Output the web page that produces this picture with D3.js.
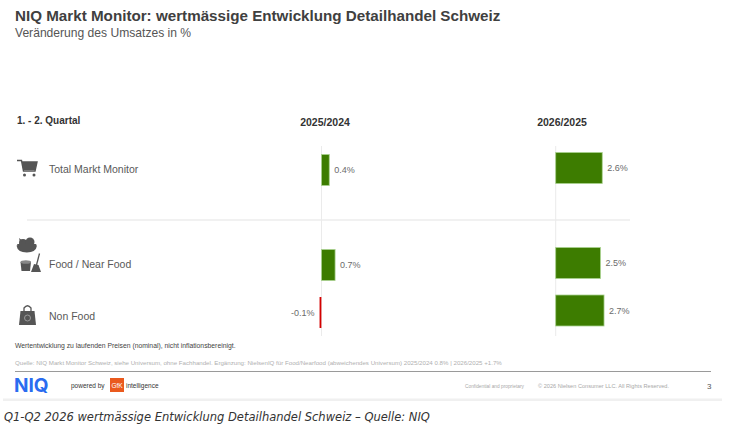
<!DOCTYPE html>
<html>
<head>
<meta charset="utf-8">
<script src="https://cdn.jsdelivr.net/npm/d3@7"></script>
<style>
  body { margin: 0; background: #fff; }
  svg { display: block; font-family: "Liberation Sans", Arial, sans-serif; }
</style>
</head>
<body>
<script>
const width = 730;
const height = 432;

// rows of the chart ("" is the empty gap under the total row)
const rows = ["Total Markt Monitor", "", "Food / Near Food", "Non Food"];
const categories = ["Total Markt Monitor", "Food / Near Food", "Non Food"];
const periods = ["2025/2024", "2026/2025"];
const values2025 = [0.4, 0.7, -0.1];
const values2026 = [2.6, 2.5, 2.7];
const labels2025 = ["0.4%", "0.7%", "-0.1%"];
const labels2026 = ["2.6%", "2.5%", "2.7%"];

const svg = d3.select("body").append("svg")
  .attr("width", width)
  .attr("height", height);

svg.append("rect").attr("width", width).attr("height", height).attr("fill", "#fff");

// title
svg.append("text")
  .attr("x", 15).attr("y", 21)
  .attr("font-size", 15.2).attr("font-weight", "bold").attr("fill", "#404040")
  .text("NIQ Markt Monitor: wertmässige Entwicklung Detailhandel Schweiz");
svg.append("text")
  .attr("x", 15).attr("y", 37)
  .attr("font-size", 12.1).attr("fill", "#555")
  .text("Veränderung des Umsatzes in %");

// header row
svg.append("text")
  .attr("x", 17).attr("y", 124)
  .attr("font-size", 10).attr("font-weight", "bold").attr("fill", "#333")
  .text("1. - 2. Quartal");

const y = d3.scalePoint().domain(rows).range([169, 311.5]);

// each panel has its own scale
const panels = [
  { period: periods[0], values: values2025, labels: labels2025,
    x: d3.scaleLinear().domain([0, 1]).range([321.5, 340.9]), dy: 1, headX: 325 },
  { period: periods[1], values: values2026, labels: labels2026,
    x: d3.scaleLinear().domain([0, 1]).range([555.7, 573.6]), dy: -1, headX: 562 }
];

// separator
svg.append("line")
  .attr("x1", 27).attr("x2", 630).attr("y1", 220).attr("y2", 220)
  .attr("stroke", "#e3e3e3").attr("stroke-width", 1);

const barH = 31;

panels.forEach(p => {
  const g = svg.append("g");
  g.append("text")
    .attr("x", p.headX).attr("y", 126)
    .attr("text-anchor", "middle")
    .attr("font-size", 10.5).attr("font-weight", "bold").attr("fill", "#333")
    .text(p.period);

  g.append("line")
    .attr("x1", p.x(0)).attr("x2", p.x(0))
    .attr("y1", 146).attr("y2", 336)
    .attr("stroke", "#ebebeb").attr("stroke-width", 1);

  const d = categories.map((c, i) => ({ c, v: p.values[i], l: p.labels[i] }));

  g.selectAll("rect.bar").data(d).join("rect")
    .attr("class", "bar")
    .attr("x", r => p.x(Math.min(0, r.v)))
    .attr("y", r => y(r.c) + p.dy - barH / 2)
    .attr("width", r => r.v < 0 ? 1.8 : Math.abs(p.x(r.v) - p.x(0)))
    .attr("height", barH)
    .attr("fill", r => r.v < 0 ? "#d40000" : "#3d7c00")
    .attr("stroke", r => r.v < 0 ? "none" : "#a9d18e")
    .attr("stroke-width", 0.8);

  g.selectAll("text.val").data(d).join("text")
    .attr("class", "val")
    .attr("x", r => r.v < 0 ? p.x(r.v) - 5 : p.x(r.v) + 5)
    .attr("y", r => y(r.c) + p.dy + 3)
    .attr("text-anchor", r => r.v < 0 ? "end" : "start")
    .attr("font-size", 9).attr("fill", "#6b6b6b")
    .text(r => r.l);
});

// category labels
svg.selectAll("text.cat").data(categories).join("text")
  .attr("class", "cat")
  .attr("x", 49)
  .attr("y", (c, i) => y(c) + [4, 4, 8][i])
  .attr("font-size", 10.5).attr("fill", "#595959")
  .text(c => c);

// icons
const ic = svg.append("g").attr("fill", "#555");
// cart
ic.append("path").attr("d", "M17,160.5 L21.5,160.5 L23.5,171 L35,171 L37,162 L21.8,162")
  .attr("fill", "none").attr("stroke", "#555").attr("stroke-width", 1.4);
ic.append("path").attr("d", "M21.8,162 L37,162 L35.2,170 L23.3,170 Z");
ic.append("circle").attr("cx", 24.5).attr("cy", 175).attr("r", 1.5);
ic.append("circle").attr("cx", 34).attr("cy", 175).attr("r", 1.5);
// food basket
ic.append("circle").attr("cx", 23).attr("cy", 243).attr("r", 4);
ic.append("circle").attr("cx", 30).attr("cy", 242).attr("r", 4.5);
ic.append("path").attr("d", "M19,238 L23,241 L20,242 Z");
ic.append("path").attr("d", "M16.5,245.5 L37,245.5 Q36,252.5 26.8,252.5 Q17.5,252.5 16.5,245.5 Z");
ic.append("rect").attr("x", 17).attr("y", 244).attr("width", 19.5).attr("height", 2).attr("rx", 1);
// bucket and broom
ic.append("path").attr("d", "M20.5,262 L31,262 L30,271 L21.5,271 Z");
ic.append("ellipse").attr("cx", 25.8).attr("cy", 262).attr("rx", 5.3).attr("ry", 1.8).attr("fill", "#888");
ic.append("line").attr("x1", 39.5).attr("y1", 253.5).attr("x2", 36.5).attr("y2", 265)
  .attr("stroke", "#555").attr("stroke-width", 1.3);
ic.append("path").attr("d", "M34,264 L38.5,265 L41,272 L31,272 Z");
// bag
ic.append("path").attr("d", "M24,311 L24,308 Q27.5,303.5 31,308 L31,311")
  .attr("fill", "none").attr("stroke", "#555").attr("stroke-width", 1.3);
ic.append("path").attr("d", "M20.5,311 L34.5,311 L36,325 L19,325 Z");
ic.append("circle").attr("cx", 27.5).attr("cy", 318).attr("r", 3).attr("fill", "none")
  .attr("stroke", "#aaa").attr("stroke-width", 0.8);

// notes
svg.append("text")
  .attr("x", 15).attr("y", 348)
  .attr("font-size", 6.8).attr("fill", "#444")
  .text("Wertentwicklung zu laufenden Preisen (nominal), nicht inflationsbereinigt.");
svg.append("text")
  .attr("x", 15).attr("y", 365)
  .attr("font-size", 6.15).attr("fill", "#b0b0b0")
  .text("Quelle: NIQ Markt Monitor Schweiz, siehe Universum, ohne Fachhandel. Ergänzung: NielsenIQ für Food/Nearfood (abweichendes Universum) 2025/2024 0.8% |  2026/2025 +1.7%");

svg.append("line")
  .attr("x1", 15).attr("x2", 711).attr("y1", 371.5).attr("y2", 371.5)
  .attr("stroke", "#9a9a9a").attr("stroke-width", 1);

// footer
svg.append("text")
  .attr("x", 14).attr("y", 391.5)
  .attr("font-size", 19).attr("font-weight", "bold").attr("fill", "#2a6cf0")
  .attr("font-family", "Inter, 'Liberation Sans', sans-serif")
  .text("NIQ");
svg.append("text")
  .attr("x", 71).attr("y", 388)
  .attr("font-size", 6.5).attr("fill", "#333")
  .text("powered by");
svg.append("rect")
  .attr("x", 110).attr("y", 378).attr("width", 14).attr("height", 14)
  .attr("fill", "#ea5a1e");
svg.append("text")
  .attr("x", 117).attr("y", 388)
  .attr("text-anchor", "middle")
  .attr("font-size", 6.5).attr("fill", "#fff")
  .text("GfK");
svg.append("text")
  .attr("x", 126).attr("y", 388)
  .attr("font-size", 6.5).attr("fill", "#333")
  .text("intelligence");

svg.append("text")
  .attr("x", 465).attr("y", 387.5)
  .attr("font-size", 4.8).attr("fill", "#a8a8a8")
  .text("Confidential and proprietary");
svg.append("text")
  .attr("x", 538).attr("y", 387.5)
  .attr("font-size", 5.6).attr("fill", "#a8a8a8")
  .text("© 2026 Nielsen Consumer LLC. All Rights Reserved.");
svg.append("text")
  .attr("x", 707).attr("y", 389)
  .attr("font-size", 8).attr("fill", "#555")
  .text("3");

svg.append("rect")
  .attr("x", 3).attr("y", 398.5).attr("width", 719).attr("height", 2.5)
  .attr("fill", "#f0f0f0");

// caption
svg.append("text")
  .attr("x", 4).attr("y", 421)
  .attr("font-family", "'DejaVu Sans', Verdana, sans-serif")
  .attr("font-style", "italic")
  .attr("font-size", 11.5).attr("fill", "#333")
  .text("Q1-Q2 2026 wertmässige Entwicklung Detailhandel Schweiz – Quelle: NIQ");
</script>
</body>
</html>
